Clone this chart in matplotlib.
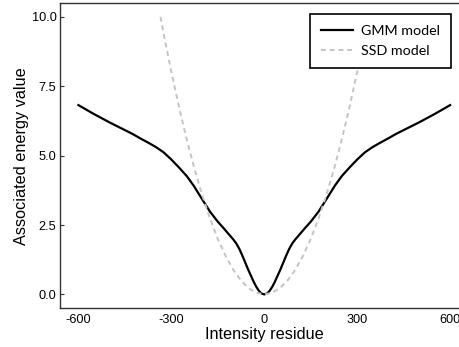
import matplotlib
matplotlib.use("Agg")
import matplotlib.pyplot as plt

# GMM model curve (symmetric around 0)
gmm_x = [-600, -575, -550, -525, -500, -475, -450, -425, -400, -375, -350,
         -325, -300, -275, -250, -228, -200, -175, -150, -130, -120, -110,
         -100, -90, -80, -70, -60, -51, -42, -34, -26, -18, -10, 0,
         10, 18, 26, 34, 42, 51, 60, 70, 80, 90, 100, 110, 120, 130, 150,
         175, 200, 228, 250, 275, 300, 325, 350, 375, 400, 425, 450, 475,
         500, 525, 550, 575, 600]
gmm_y = [6.82, 6.66, 6.50, 6.35, 6.20, 6.06, 5.92, 5.78, 5.62, 5.47, 5.31,
         5.12, 4.86, 4.57, 4.26, 3.92, 3.42, 2.98, 2.62, 2.37, 2.24, 2.11,
         1.98, 1.83, 1.63, 1.38, 1.11, 0.87, 0.65, 0.45, 0.28, 0.14, 0.04, 0.0,
         0.04, 0.14, 0.28, 0.45, 0.65, 0.87, 1.11, 1.38, 1.63, 1.83, 1.98,
         2.11, 2.24, 2.37, 2.62, 2.98, 3.42, 3.92, 4.26, 4.57, 4.86, 5.12,
         5.31, 5.47, 5.62, 5.78, 5.92, 6.06, 6.20, 6.35, 6.50, 6.66, 6.82]

# SSD model curve
ssd_x = [-335, -325, -300, -275, -250, -225, -200, -175, -150, -125, -100,
         -75, -50, -25, 0, 25, 50, 75, 100, 125, 150, 175, 200,
         225, 250, 275, 300, 325, 335]
ssd_y = [10.0, 9.41, 8.02, 6.74, 5.57, 4.51, 3.56, 2.73, 2.00, 1.39, 0.89,
         0.50, 0.22, 0.06, 0.0, 0.06, 0.22, 0.50, 0.89, 1.39, 2.00, 2.73, 3.56,
         4.51, 5.57, 6.74, 8.02, 9.41, 10.0]

x_ticks = [-600, -300, 0, 300, 600]
y_ticks = [0.0, 2.5, 5.0, 7.5, 10.0]

plt.rcParams['font.family'] = ['Liberation Sans', 'DejaVu Sans']

fig = plt.figure(figsize=(4.6, 3.47), dpi=100)
ax = fig.add_axes([0.130, 0.1115, 0.889, 0.880])

ax.plot(gmm_x, gmm_y, color='black', linewidth=1.6, label='GMM model')
ax.plot(ssd_x, ssd_y, color='#c4c4c4', linewidth=1.4, linestyle=(0, (2.5, 2)),
        label='SSD model')

ax.set_xlim(-660, 660)
ax.set_ylim(-0.5, 10.5)
ax.set_xticks(x_ticks)
ax.set_xticklabels([str(t) for t in x_ticks])
ax.set_yticks(y_ticks)
ax.set_yticklabels(['%.1f' % t for t in y_ticks])
ax.tick_params(axis='both', direction='in', labelsize=9.2, color='#333333')
ax.tick_params(axis='x', length=0, pad=4)
ax.tick_params(axis='y', length=3, pad=2.4)

for s in ax.spines.values():
    s.set_color('#333333')
    s.set_linewidth(1.0)

ax.set_xlabel('Intensity residue', fontsize=11.7, labelpad=1)
ax.set_ylabel('Associated energy value', fontsize=11.7, labelpad=2)

leg = ax.legend(loc='upper left', bbox_to_anchor=(310 / 460, 1 - 14 / 347),
                bbox_transform=fig.transFigure, borderaxespad=0,
                prop={'family': 'Lato', 'size': 10.3}, frameon=True,
                fancybox=False, edgecolor='black', framealpha=1,
                handlelength=2.2, handletextpad=0.55,
                borderpad=0.8, labelspacing=0.5)
leg.get_frame().set_linewidth(1.2)

fig.savefig('out.png', dpi=100)
